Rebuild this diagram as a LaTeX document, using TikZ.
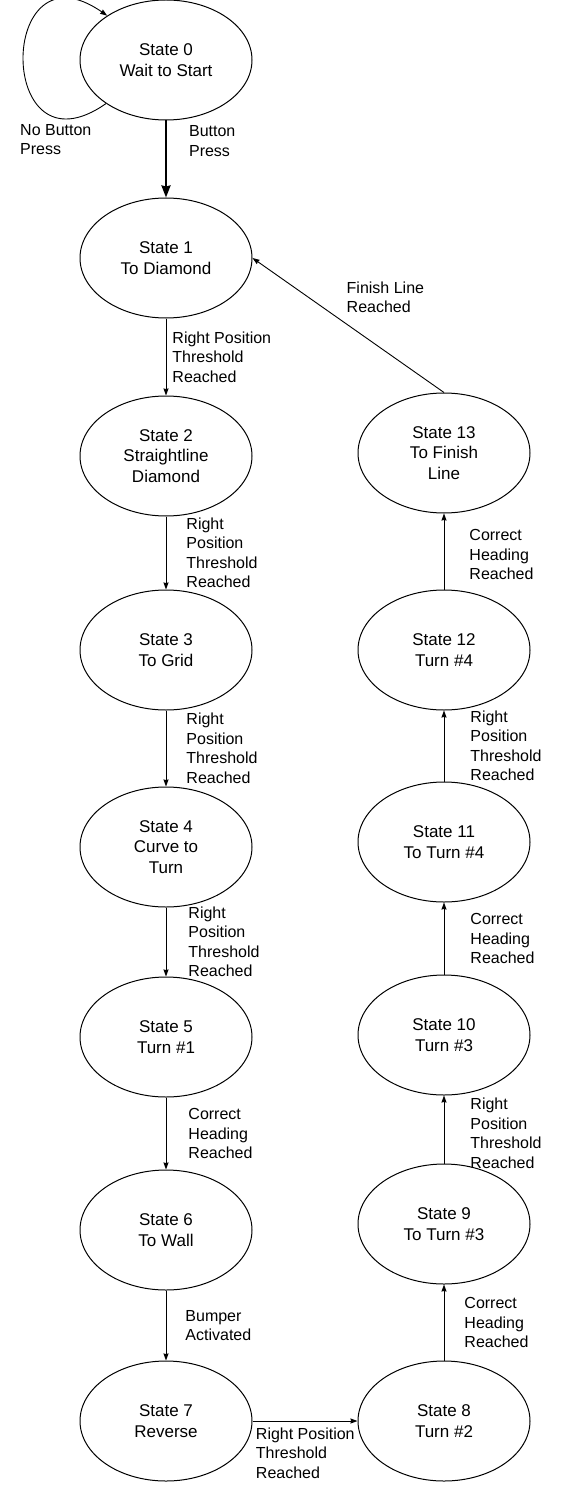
\documentclass[tikz,border=0pt]{standalone}
\usepackage{fontspec}
\setmainfont{Liberation Sans}
\usetikzlibrary{arrows.meta,shapes.geometric}

\begin{document}
\begin{tikzpicture}[x=1pt,y=1pt,
  state/.style={ellipse, draw=black, line width=1pt, minimum width=172pt, minimum height=120pt, inner sep=0pt, align=center, font=\fontsize{17}{20.5}\selectfont},
  lbl/.style={align=left, inner sep=0pt, anchor=west, font=\fontsize{16}{19.5}\selectfont},
  tip/.style={-{Stealth[length=7pt,width=5pt,inset=0.5pt]}, line width=0.9pt},
  bigtip/.style={-{Stealth[length=12pt,width=9pt,inset=1pt]}, line width=2.2pt}]
  \useasboundingbox (0,0) rectangle (587,-1503);

  % left column
  \node (S0) [state] at (166,-60) {State 0\\Wait to Start};
  \node (S1) [state] at (166,-258) {State 1\\To Diamond};
  \node (S2) [state] at (166,-456) {State 2\\Straightline\\Diamond};
  \node (S3) [state] at (166,-650) {State 3\\To Grid};
  \node (S4) [state] at (166,-847) {State 4\\Curve to\\Turn};
  \node (S5) [state] at (166,-1037) {State 5\\Turn \#1};
  \node (S6) [state] at (166,-1230) {State 6\\To Wall};
  \node (S7) [state] at (166,-1421) {State 7\\Reverse};

  % right column
  \node (S8) [state] at (444,-1421) {State 8\\Turn \#2};
  \node (S9) [state] at (444,-1224) {State 9\\To Turn \#3};
  \node (S10) [state] at (444,-1035) {State 10\\Turn \#3};
  \node (S11) [state] at (444,-842) {State 11\\To Turn \#4};
  \node (S12) [state] at (444,-650) {State 12\\Turn \#4};
  \node (S13) [state] at (444,-453) {State 13\\To Finish\\Line};

  % waiting loop
  \draw [tip] (S0.216) .. controls +(215:135) and +(145:135) .. (S0.143);
  \node (nobtn) [lbl, anchor=north west] at (20,-124) {No Button\\Press};

  \path [bigtip]
  (S0) edge node [lbl, xshift=22pt, yshift=18pt] (btn) {Button\\Press} (S1);

  \path [tip]
  (S1) edge node [lbl, xshift=6pt] (t12) {Right Position\\Threshold\\Reached} (S2)
  (S2) edge node [lbl, xshift=20pt] (t23) {Right\\Position\\Threshold\\Reached} (S3)
  (S3) edge node [lbl, xshift=20pt] (t34) {Right\\Position\\Threshold\\Reached} (S4)
  (S4) edge node [lbl, xshift=22pt] (t45) {Right\\Position\\Threshold\\Reached} (S5)
  (S5) edge node [lbl, xshift=22pt] (t56) {Correct\\Heading\\Reached} (S6)
  (S6) edge node [lbl, xshift=19pt] (t67) {Bumper\\Activated} (S7)
  (S7) edge node [lbl, anchor=north west, pos=0, xshift=3pt, yshift=-6pt] (t78) {Right Position\\Threshold\\Reached} (S8)
  (S8) edge node [lbl, xshift=20pt] (t89) {Correct\\Heading\\Reached} (S9)
  (S9) edge node [lbl, xshift=26pt, yshift=-4pt] (t910) {Right\\Position\\Threshold\\Reached} (S10)
  (S10) edge node [lbl, xshift=26pt] (t1011) {Correct\\Heading\\Reached} (S11)
  (S11) edge node [lbl, xshift=26pt] (t1112) {Right\\Position\\Threshold\\Reached} (S12)
  (S12) edge node [lbl, xshift=25pt, yshift=-3pt] (t1213) {Correct\\Heading\\Reached} (S13)
  (S13.north) edge node [lbl, anchor=south west, xshift=-2pt, yshift=12pt] (t131) {Finish Line\\Reached} (S1.east);
\end{tikzpicture}
\end{document}
